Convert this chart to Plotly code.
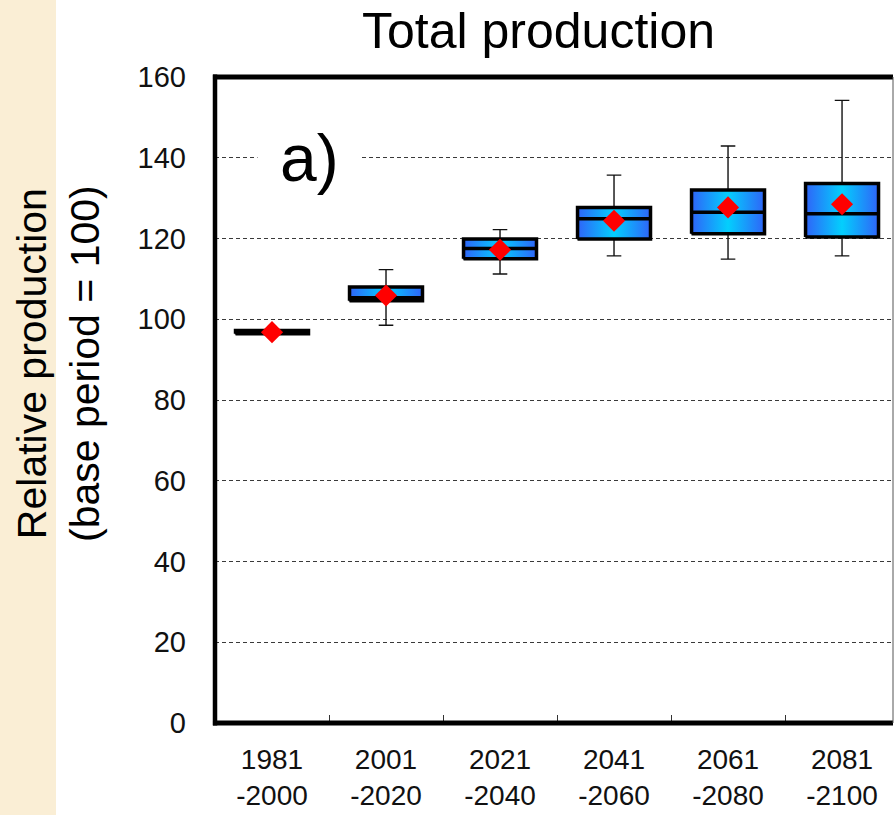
import plotly.graph_objects as go

# Period categories and box statistics (relative production, base period = 100)
periods = ["1981<br>-2000", "2001<br>-2020", "2021<br>-2040",
           "2041<br>-2060", "2061<br>-2080", "2081<br>-2100"]
q1 = [96.4, 104.6, 115.0, 119.9, 121.2, 120.4]
median = [96.8, 105.3, 117.5, 124.9, 126.5, 126.1]
q3 = [97.2, 108.0, 119.9, 127.7, 132.0, 133.6]
whisker_low = [96.4, 98.5, 111.2, 115.7, 114.9, 115.7]
whisker_high = [97.2, 112.3, 122.2, 135.7, 142.9, 154.2]
mean = [96.8, 105.9, 117.2, 124.4, 127.7, 128.5]
y_ticks = [0, 20, 40, 60, 80, 100, 120, 140, 160]

FONT = "Liberation Sans, Arial, sans-serif"
BOX_W = 0.64
pos = list(range(len(periods)))

W, H = 895, 815
ML, MR, MT, MB = 215, 2, 77, 92
PW, PH = W - ML - MR, H - MT - MB


def px_to_paper_x(px):
    return (px - ML) / PW


def px_to_paper_y(py):
    return (H - MB - py) / PH


fig = go.Figure()

# Whiskers (drawn by the box trace; its body is overdrawn by the gradient boxes)
fig.add_trace(go.Box(
    x=pos, q1=q1, median=median, q3=q3,
    lowerfence=whisker_low, upperfence=whisker_high,
    width=BOX_W, whiskerwidth=0.2,
    fillcolor="rgba(0,0,0,0)",
    line=dict(color="#111111", width=1.4),
    boxpoints=False, hoverinfo="skip", showlegend=False,
))

# Box bodies with a horizontal blue-cyan-blue gradient and thick outline
for i, lo, hi in zip(pos, q1, q3):
    fig.add_trace(go.Scatter(
        x=[i - BOX_W / 2, i + BOX_W / 2, i + BOX_W / 2, i - BOX_W / 2, i - BOX_W / 2],
        y=[lo, lo, hi, hi, lo],
        mode="lines", fill="toself",
        fillgradient=dict(
            type="horizontal",
            colorscale=[[0, "#2f64f8"], [0.5, "#03cffd"], [1, "#2f64f8"]],
        ),
        line=dict(color="black", width=3.5),
        hoverinfo="skip", showlegend=False,
    ))

# Median lines
mx, my = [], []
for i, m in zip(pos, median):
    mx += [i - BOX_W / 2, i + BOX_W / 2, None]
    my += [m, m, None]
fig.add_trace(go.Scatter(x=mx, y=my, mode="lines",
                         line=dict(color="black", width=3.5),
                         hoverinfo="skip", showlegend=False))

# Means
fig.add_trace(go.Scatter(x=pos, y=mean, mode="markers",
                         marker=dict(symbol="diamond", size=17, color="#ff0000",
                                     line=dict(width=0)),
                         showlegend=False))

shapes = [
    # parchment strip at the left edge
    dict(type="rect", xref="paper", yref="paper",
         x0=px_to_paper_x(-5), x1=px_to_paper_x(56),
         y0=px_to_paper_y(H + 5), y1=px_to_paper_y(-5),
         fillcolor="#faeed5", line=dict(width=0), layer="below"),
    # frame
    dict(type="line", xref="paper", yref="paper", x0=0, x1=0, y0=-0.004, y1=1.004,
         line=dict(color="black", width=4.5), layer="above"),
    dict(type="line", xref="paper", yref="paper", x0=-0.003, x1=1, y0=0, y1=0,
         line=dict(color="black", width=5), layer="above"),
    dict(type="line", xref="paper", yref="paper", x0=-0.003, x1=1, y0=1, y1=1,
         line=dict(color="black", width=5), layer="above"),
    dict(type="line", xref="paper", yref="paper", x0=1, x1=1, y0=0, y1=1,
         line=dict(color="#555555", width=1), layer="above"),
]

annotations = [
    dict(text="Total production", xref="paper", yref="paper",
         x=px_to_paper_x(538), y=px_to_paper_y(31),
         xanchor="center", yanchor="middle", showarrow=False,
         font=dict(family=FONT, size=50, color="black")),
    dict(text="Relative production<br>(base period = 100)",
         xref="paper", yref="paper",
         x=px_to_paper_x(58), y=px_to_paper_y(364),
         xanchor="center", yanchor="middle", showarrow=False, textangle=-90,
         font=dict(family=FONT, size=41, color="black")),
    dict(text="a)", xref="paper", yref="paper",
         x=px_to_paper_x(309), y=px_to_paper_y(158),
         xanchor="center", yanchor="middle", showarrow=False,
         bgcolor="white", borderpad=22,
         font=dict(family=FONT, size=66, color="black")),
]

fig.update_layout(
    width=W, height=H,
    margin=dict(l=ML, r=MR, t=MT, b=MB, pad=0, autoexpand=False),
    paper_bgcolor="white", plot_bgcolor="white",
    showlegend=False,
    font=dict(family=FONT, color="black"),
    shapes=shapes, annotations=annotations,
    xaxis=dict(
        range=[-0.5, 5.447], tickmode="array", tickvals=pos, ticktext=periods,
        ticks="", showgrid=False, zeroline=False, showline=False,
        automargin=False,
        tickfont=dict(family=FONT, size=28, color="#111111"),
        ticklabelstandoff=17,
        minor=dict(tickmode="array", tickvals=[0.5, 1.5, 2.5, 3.5, 4.5],
                   ticks="inside", ticklen=8, tickwidth=1, tickcolor="#333333",
                   showgrid=False),
    ),
    yaxis=dict(
        range=[0, 160], tickmode="array", tickvals=y_ticks,
        ticks="", showgrid=True, gridcolor="#3a3a3a", gridwidth=1,
        griddash="4px,3px", zeroline=False, showline=False,
        automargin=False,
        tickfont=dict(family=FONT, size=29, color="#111111"),
        ticklabelstandoff=28,
    ),
)

fig.write_html("out.html")
